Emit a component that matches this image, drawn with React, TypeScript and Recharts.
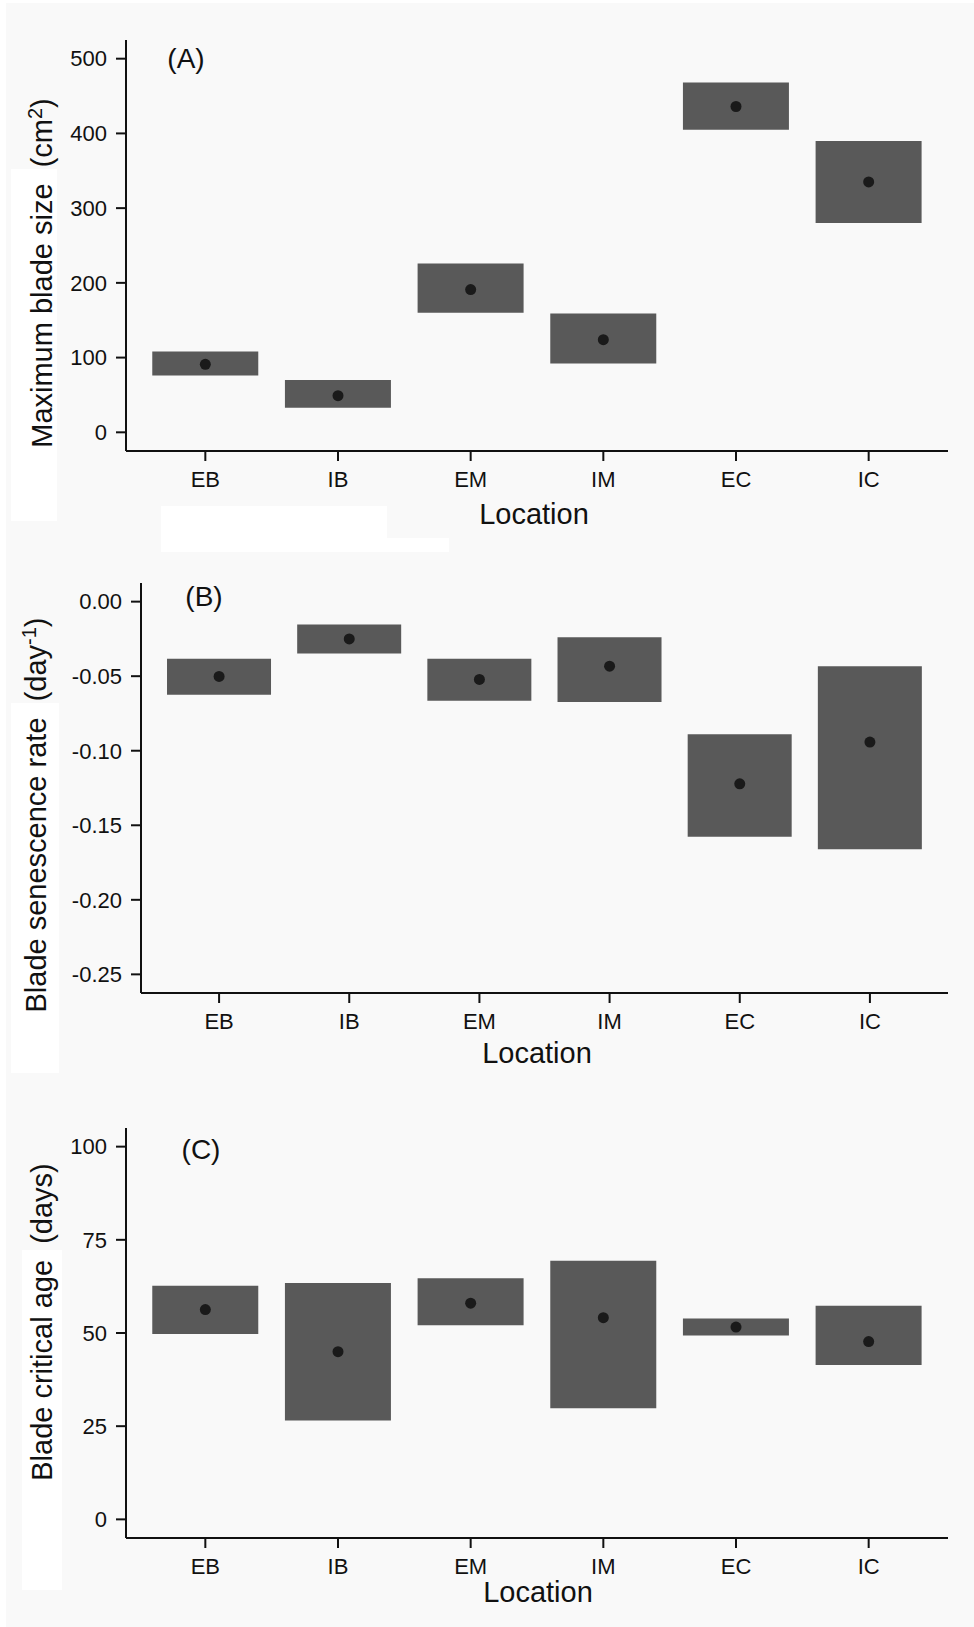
import React from 'react';
import { ComposedChart, Bar, Line, XAxis, YAxis } from 'recharts';

const locations = ['EB', 'IB', 'EM', 'IM', 'EC', 'IC'];

// (A) maximum blade size, cm2
const sizeLow = [76, 33, 160, 92, 405, 280];
const sizeHigh = [108, 70, 226, 159, 468, 390];
const sizeMean = [91, 49, 191, 124, 436, 335];
const sizeTicks = [0, 100, 200, 300, 400, 500];

// (B) blade senescence rate, day-1
const rateLow = [-0.0625, -0.0348, -0.0665, -0.0674, -0.1577, -0.166];
const rateHigh = [-0.0383, -0.0154, -0.0383, -0.0239, -0.089, -0.0433];
const rateMean = [-0.0502, -0.025, -0.0522, -0.0433, -0.1222, -0.0942];
const rateTicks = [-0.25, -0.2, -0.15, -0.1, -0.05, 0];

// (C) blade critical age, days
const ageLow = [49.7, 26.5, 52.1, 29.8, 49.3, 41.4];
const ageHigh = [62.7, 63.4, 64.7, 69.4, 53.9, 57.3];
const ageMean = [56.3, 45.0, 58.0, 54.1, 51.6, 47.7];
const ageTicks = [0, 25, 50, 75, 100];

const FONT = '"Liberation Sans", Arial, Helvetica, sans-serif';
const BOX = '#595959';
const DOT = '#1a1a1a';
const INK = '#111111';
const GAP = '\u00a0 ';

const buildRows = (low: number[], high: number[], mean: number[]) =>
  locations.map((loc, i) => ({ loc, range: [low[i], high[i]], mean: mean[i] }));

type PanelProps = {
  top: number;
  margin: { top: number; right: number; left: number; bottom: number };
  rows: { loc: string; range: number[]; mean: number }[];
  domain: [number, number];
  ticks: number[];
  fmt?: (v: number) => string;
  tag: string;
  tagPos: [number, number];
  title: React.ReactNode;
  titlePos: [number, number];
  xTitlePos: [number, number];
};

const Panel = ({ top, margin, rows, domain, ticks, fmt, tag, tagPos, title, titlePos, xTitlePos }: PanelProps) => (
  <div style={{ position: 'absolute', left: 0, top }}>
    <ComposedChart
      width={974}
      height={540}
      data={rows}
      margin={margin}
      barCategoryGap="10%"
      style={{ fontFamily: FONT }}
    >
      <XAxis
        dataKey="loc"
        type="category"
        padding={{ left: 13, right: 13 }}
        height={40}
        tickSize={10}
        tickMargin={10}
        axisLine={{ stroke: INK, strokeWidth: 2 }}
        tickLine={{ stroke: INK, strokeWidth: 2 }}
        tick={{ fill: INK, fontSize: 22, fontFamily: FONT }}
        label={{
          content: () => (
            <text x={xTitlePos[0]} y={xTitlePos[1]} textAnchor="middle" fontSize={29} fill={INK} fontFamily={FONT}>
              Location
            </text>
          ),
        }}
      />
      <YAxis
        type="number"
        width={80}
        domain={domain}
        ticks={ticks}
        allowDataOverflow
        interval={0}
        tickFormatter={fmt}
        tickSize={10}
        tickMargin={9}
        axisLine={{ stroke: INK, strokeWidth: 2 }}
        tickLine={{ stroke: INK, strokeWidth: 2 }}
        tick={{ fill: INK, fontSize: 22, fontFamily: FONT }}
        label={{
          content: () => (
            <g fontFamily={FONT} fill={INK}>
              <text
                x={titlePos[0]}
                y={titlePos[1]}
                transform={`rotate(-90 ${titlePos[0]} ${titlePos[1]})`}
                textAnchor="middle"
                fontSize={29}
              >
                {title}
              </text>
              <text x={tagPos[0]} y={tagPos[1]} textAnchor="middle" fontSize={28}>
                {tag}
              </text>
            </g>
          ),
        }}
      />
      <Bar dataKey="range" fill={BOX} isAnimationActive={false} />
      <Line
        dataKey="mean"
        stroke="none"
        dot={{ r: 5.5, fill: DOT, stroke: 'none' }}
        activeDot={false}
        legendType="none"
        isAnimationActive={false}
      />
    </ComposedChart>
  </div>
);

// pale scan marks on the figure background
const patches = [
  { left: 11, top: 169, width: 46, height: 352 },
  { left: 161, top: 506, width: 226, height: 46 },
  { left: 387, top: 538, width: 62, height: 14 },
  { left: 11, top: 703, width: 48, height: 370 },
  { left: 22, top: 1250, width: 40, height: 340 },
];

export default function App() {
  return (
    <div style={{ position: 'absolute', left: 0, top: 0, width: 974, height: 1627, background: '#ffffff' }}>
      <div style={{ position: 'absolute', left: 6, top: 3, width: 968, height: 1624, background: '#f9f9f9' }} />
      {patches.map((p, i) => (
        <div key={i} style={{ position: 'absolute', background: '#ffffff', ...p }} />
      ))}
      <Panel
        top={0}
        margin={{ top: 40, right: 26, left: 46, bottom: 49 }}
        rows={buildRows(sizeLow, sizeHigh, sizeMean)}
        domain={[-25, 525]}
        ticks={sizeTicks}
        tag="(A)"
        tagPos={[186, 68]}
        title={
          <>
            {`Maximum blade size${GAP}(cm`}
            <tspan dy={-10} fontSize={20}>2</tspan>
            <tspan dy={10}>)</tspan>
          </>
        }
        titlePos={[52, 273]}
        xTitlePos={[534, 524]}
      />
      <Panel
        top={540}
        margin={{ top: 43, right: 26, left: 61, bottom: 47 }}
        rows={buildRows(rateLow, rateHigh, rateMean)}
        domain={[-0.2625, 0.0125]}
        ticks={rateTicks}
        fmt={(v) => v.toFixed(2)}
        tag="(B)"
        tagPos={[204, 66]}
        title={
          <>
            {`Blade senescence rate${GAP}(day`}
            <tspan dy={-10} fontSize={20}>-1</tspan>
            <tspan dy={10}>)</tspan>
          </>
        }
        titlePos={[46, 275]}
        xTitlePos={[537, 523]}
      />
      <Panel
        top={1087}
        margin={{ top: 41, right: 26, left: 46, bottom: 49 }}
        rows={buildRows(ageLow, ageHigh, ageMean)}
        domain={[-5, 105]}
        ticks={ageTicks}
        tag="(C)"
        tagPos={[201, 72]}
        title={`Blade critical age${GAP}(days)`}
        titlePos={[52, 235]}
        xTitlePos={[538, 515]}
      />
    </div>
  );
}
